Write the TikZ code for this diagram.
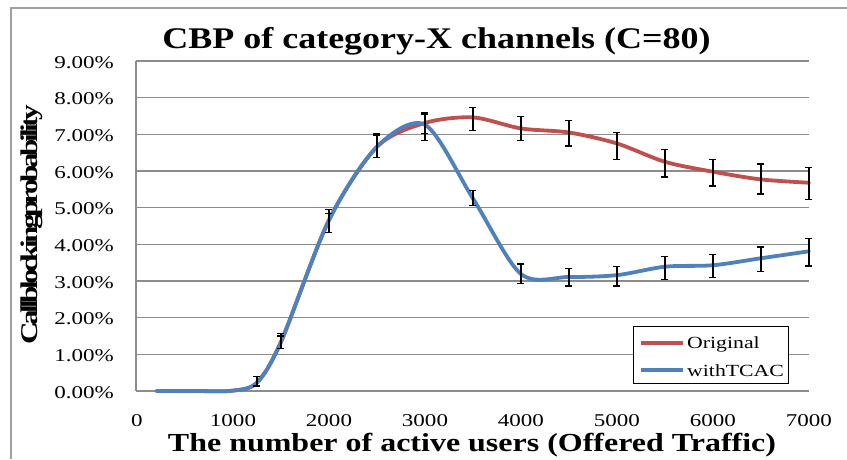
\documentclass[tikz,border=0pt]{standalone}
\usepackage{fontspec}
\setmainfont{Liberation Serif}
\newfontfamily\tickfont[FakeStretch=1.28]{Liberation Serif}
\newfontfamily\titlefont[FakeStretch=1.2]{Liberation Serif}
\newfontfamily\xlabfont[FakeStretch=1.23]{Liberation Serif}
\newfontfamily\ylabfont[FakeStretch=1.3,LetterSpace=-15]{Liberation Serif}
\definecolor{origred}{HTML}{C0504D}
\definecolor{tcacblue}{HTML}{4F81BD}
\definecolor{gridgray}{HTML}{8C8C8C}
\definecolor{framegray}{HTML}{A0A0A0}
\tikzset{
  gridline/.style={draw=gridgray, line width=1.1pt},
  axisline/.style={draw=gridgray, line width=1.8pt},
  curve/.style={line width=3.8pt, smooth, tension=0.5, line cap=round, line join=round},
  ebar/.style={draw=black, line width=1.3pt},
  ticklab/.style={font=\tickfont\fontsize{18}{20}\selectfont, inner sep=0pt},
  legtext/.style={font=\tickfont\fontsize{17}{19}\selectfont, inner sep=0pt, anchor=base west},
}
\newcommand{\errbar}[3]{%
  \draw[ebar] (#1,#2) -- (#1,#3);
  \draw[ebar] ([xshift=-3.5pt]#1,#2) -- ([xshift=3.5pt]#1,#2);
  \draw[ebar] ([xshift=-3.5pt]#1,#3) -- ([xshift=3.5pt]#1,#3);
}
\begin{document}
\begin{tikzpicture}[x=1pt, y=-1pt]
\useasboundingbox (0,0) rectangle (847,459);
\fill[white] (0,0) rectangle (847,459);
% outer frame
\draw[framegray, line width=2pt] (11,459) -- (11,8) -- (847,8);
% title
\node[anchor=base, inner sep=0pt, font=\titlefont\bfseries\fontsize{30}{34}\selectfont] (title) at (436.5,48) {CBP of category-X channels (C=80)};
% data scope
\begin{scope}[shift={(137,391)}, x=0.096pt, y=36.67pt]
  \foreach \p in {1,...,9} \draw[gridline] (-10,\p) -- (7000,\p);
  \draw[axisline] (-10,0) -- (7000,0);
  \draw[gridgray, line width=1.5pt] (-10,0) -- (-10,9);
  % y tick labels
  \foreach \p in {0,...,9}
    \node[ticklab, anchor=base east] (yt\p) at ([xshift=-23pt, yshift=-7.3pt]0,\p) {\p.00\%};
  % x tick labels
  \foreach \v in {0,1000,...,7000}
    \node[ticklab, anchor=base] (xt\v) at ([yshift=-35pt]\v,0) {\v};
  % curves
  \draw[origred, curve] plot coordinates {(200,0) (600,0) (1000,0.01) (1250,0.23) (1500,1.34) (2000,4.66) (2500,6.66) (3000,7.31) (3500,7.46) (4000,7.16) (4500,7.05) (5000,6.75) (5500,6.25) (6000,5.98) (6500,5.77) (7000,5.68)};
  \draw[tcacblue, curve] plot coordinates {(200,0) (600,0) (1000,0.01) (1250,0.23) (1500,1.34) (2000,4.66) (2500,6.66) (3000,7.26) (3500,5.25) (4000,3.19) (4500,3.11) (5000,3.16) (5500,3.39) (6000,3.43) (6500,3.62) (7000,3.81)};
  % error bars original
  \errbar{1250}{0.14}{0.39}
  \errbar{1500}{1.16}{1.57}
  \errbar{2000}{4.32}{4.95}
  \errbar{2500}{6.37}{7.02}
  \errbar{3000}{6.84}{7.58}
  \errbar{3500}{7.11}{7.73}
  \errbar{4000}{6.84}{7.49}
  \errbar{4500}{6.68}{7.37}
  \errbar{5000}{6.31}{7.04}
  \errbar{5500}{5.84}{6.59}
  \errbar{6000}{5.59}{6.32}
  \errbar{6500}{5.37}{6.19}
  \errbar{7000}{5.23}{6.10}
  % error bars withTCAC
  \errbar{1500}{1.16}{1.50}
  \errbar{2000}{4.32}{4.84}
  \errbar{2500}{6.37}{6.98}
  \errbar{3000}{7.02}{7.55}
  \errbar{3500}{5.06}{5.47}
  \errbar{4000}{2.93}{3.46}
  \errbar{4500}{2.86}{3.34}
  \errbar{5000}{2.86}{3.40}
  \errbar{5500}{3.05}{3.66}
  \errbar{6000}{3.09}{3.73}
  \errbar{6500}{3.25}{3.93}
  \errbar{7000}{3.41}{4.16}
\end{scope}
% axis titles
\node[anchor=base, inner sep=0pt, font=\xlabfont\bfseries\fontsize{26}{30}\selectfont] (xtitle) at (472,451) {The number of active users (Offered Traffic)};
\node[rotate=90, inner sep=0pt, font=\ylabfont\bfseries\fontsize{24}{26}\selectfont] (ytitle) at (32,225) {Callblockingprobability};
% legend
\node[draw=black, line width=1pt, fill=white, minimum width=155pt, minimum height=57pt, inner sep=0pt] (legend) at (710.5,354.5) {};
\coordinate (r1) at (641,343);
\coordinate (r2) at (683,343);
\coordinate (b1) at (641,370);
\coordinate (b2) at (683,370);
\draw[origred, line width=3.6pt] (r1) -- (r2);
\draw[tcacblue, line width=3.6pt] (b1) -- (b2);
\node[legtext] (lorig) at (687,348) {Original};
\node[legtext] (ltcac) at (687,376.5) {withTCAC};
\end{tikzpicture}
\end{document}
